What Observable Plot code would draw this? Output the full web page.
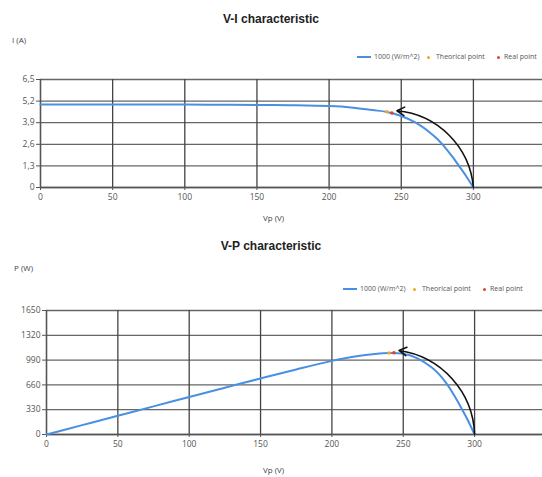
<!DOCTYPE html>
<html><head><meta charset="utf-8">
<script src="https://cdn.jsdelivr.net/npm/d3@7"></script>
<script src="https://cdn.jsdelivr.net/npm/@observablehq/plot@0.6"></script>
<style>
body{margin:0;background:#fff;font-family:"Open Sans",sans-serif;}
#page{position:relative;width:542px;height:477px;overflow:hidden;background:#fff;}
.t{position:absolute;white-space:nowrap;line-height:1;}
.title{font:bold 12px "Liberation Sans",Arial,sans-serif;color:#222;left:0;width:542px;text-align:center;}
.lab{font-size:8px;color:#444;}
.leg{font-size:7px;color:#555;}
.sw{position:absolute;height:2px;background:#4a90e2;}
.dot{position:absolute;width:3px;height:3px;border-radius:50%;}
.plot{position:absolute;left:0;}
</style></head><body><div id="page"></div>
<script>
// ---- data ----
const voltage = [0, 25, 50, 75, 100, 125, 150, 175, 200, 215, 230, 240, 250, 260, 270, 275, 280, 285, 290, 295, 300];
const current = [5.0, 5.0, 5.0, 4.99, 4.99, 4.98, 4.97, 4.95, 4.9, 4.82, 4.66, 4.55, 4.3, 3.9, 3.3, 2.92, 2.45, 1.9, 1.3, 0.68, 0];
const power   = [0, 125, 250, 374, 499, 623, 746, 866, 980, 1036, 1072, 1085, 1075, 1014, 891, 803, 686, 542, 377, 200, 0];
const pointNames = ["Theorical point", "Real point"];
const pointColors = ["#f5a623", "#e0452a"];
const pointV = [240, 243.5];
const pointI = [4.56, 4.48];
const pointP = [1084, 1088];
const arrowV = [300, 247];
const arrowI = [0, 4.62];
const arrowP = [0, 1118];
const vTicks = [0, 50, 100, 150, 200, 250, 300];
const iTicks = [0, 1.3, 2.6, 3.9, 5.2, 6.5];
const pTicks = [0, 330, 660, 990, 1320, 1650];
const seriesName = "1000 (W/m^2)";

const page = document.getElementById("page");
function txt(cls, s, left, top, extra) {
  const d = document.createElement("div");
  d.className = "t " + cls; d.textContent = s;
  if (left != null) d.style.left = left + "px";
  d.style.top = top + "px";
  if (extra) Object.assign(d.style, extra);
  page.appendChild(d); return d;
}
function legend(y, x0) {
  const s = document.createElement("div"); s.className = "sw";
  s.style.left = x0 + "px"; s.style.top = (y - 1) + "px"; s.style.width = "14px";
  page.appendChild(s);
  txt("leg", seriesName, x0 + 17, y - 4);
  const px = [x0 + 71, x0 + 141];
  const tx = [x0 + 79, x0 + 147];
  pointNames.forEach((n, i) => {
    const d = document.createElement("div"); d.className = "dot";
    d.style.background = pointColors[i];
    d.style.left = (px[i] - 1.5) + "px"; d.style.top = (y - 1.5) + "px";
    page.appendChild(d);
    txt("leg", n, tx[i], y - 4);
  });
}

function chart({yVals, yTicks, yMax, ptY, arY, mLeft, xMax, plotH, top, fmt}) {
  const lineData = voltage.map((v, i) => ({v, y: yVals[i]}));
  const pts = pointNames.map((n, i) => ({n, v: pointV[i], y: ptY[i], c: pointColors[i]}));
  const arrows = [{x1: arrowV[0], y1: arY[0], x2: arrowV[1], y2: arY[1]}];
  const p = Plot.plot({
    width: 542, height: 10 + plotH + 28,
    marginTop: 10, marginBottom: 28, marginLeft: mLeft, marginRight: 0,
    style: {fontFamily: "'Open Sans', sans-serif", fontSize: "8.5px", color: "#444", background: "transparent"},
    x: {domain: [0, xMax]},
    y: {domain: [0, yMax]},
    marks: [
      Plot.gridY(yTicks, {stroke: "#666", strokeOpacity: 1, strokeWidth: 1.3}),
      Plot.gridX(vTicks, {stroke: "#444", strokeOpacity: 1, strokeWidth: 1.3}),
      Plot.ruleY([0], {stroke: "#555", strokeWidth: 1.3}),
      Plot.ruleX([0], {stroke: "#555", strokeWidth: 1.3}),
      Plot.axisX(vTicks, {tickSize: 3, tickPadding: 3, stroke: "#555", fill: "#555", label: null}),
      Plot.axisY(yTicks, {tickSize: 4, tickPadding: 2, stroke: "#555", fill: "#555", label: null, tickFormat: fmt}),
      Plot.line(lineData, {x: "v", y: "y", stroke: "#4a90e2", strokeWidth: 2, curve: "catmull-rom"}),
      Plot.dot(pts, {x: "v", y: "y", fill: "c", r: 1.8}),
      Plot.arrow(arrows, {x1: "x1", y1: "y1", x2: "x2", y2: "y2", bend: -40, stroke: "#111", strokeWidth: 1.6, headLength: 8})
    ]
  });
  p.classList.add("plot");
  p.style.top = top + "px";
  page.appendChild(p);
}

// ---- top chart: V-I ----
txt("title", "V-I characteristic", null, 12);
txt("lab", "I (A)", 12, 36);
legend(57, 357);
chart({yVals: current, yTicks: iTicks, yMax: 6.5, ptY: pointI, arY: arrowI, mLeft: 40,
  xMax: (542 - 40) / 1.443, plotH: 108, top: 69, fmt: d => String(d).replace(".", ",")});
txt("lab", "Vp (V)", 263, 214);

// ---- bottom chart: V-P ----
txt("title", "V-P characteristic", null, 239);
txt("lab", "P (W)", 14, 264);
legend(289, 343);
chart({yVals: power, yTicks: pTicks, yMax: 1650, ptY: pointP, arY: arrowP, mLeft: 46,
  xMax: (542 - 46) / 1.427, plotH: 124, top: 300, fmt: d => String(d)});
txt("lab", "Vp (V)", 263, 466);
</script></body></html>
